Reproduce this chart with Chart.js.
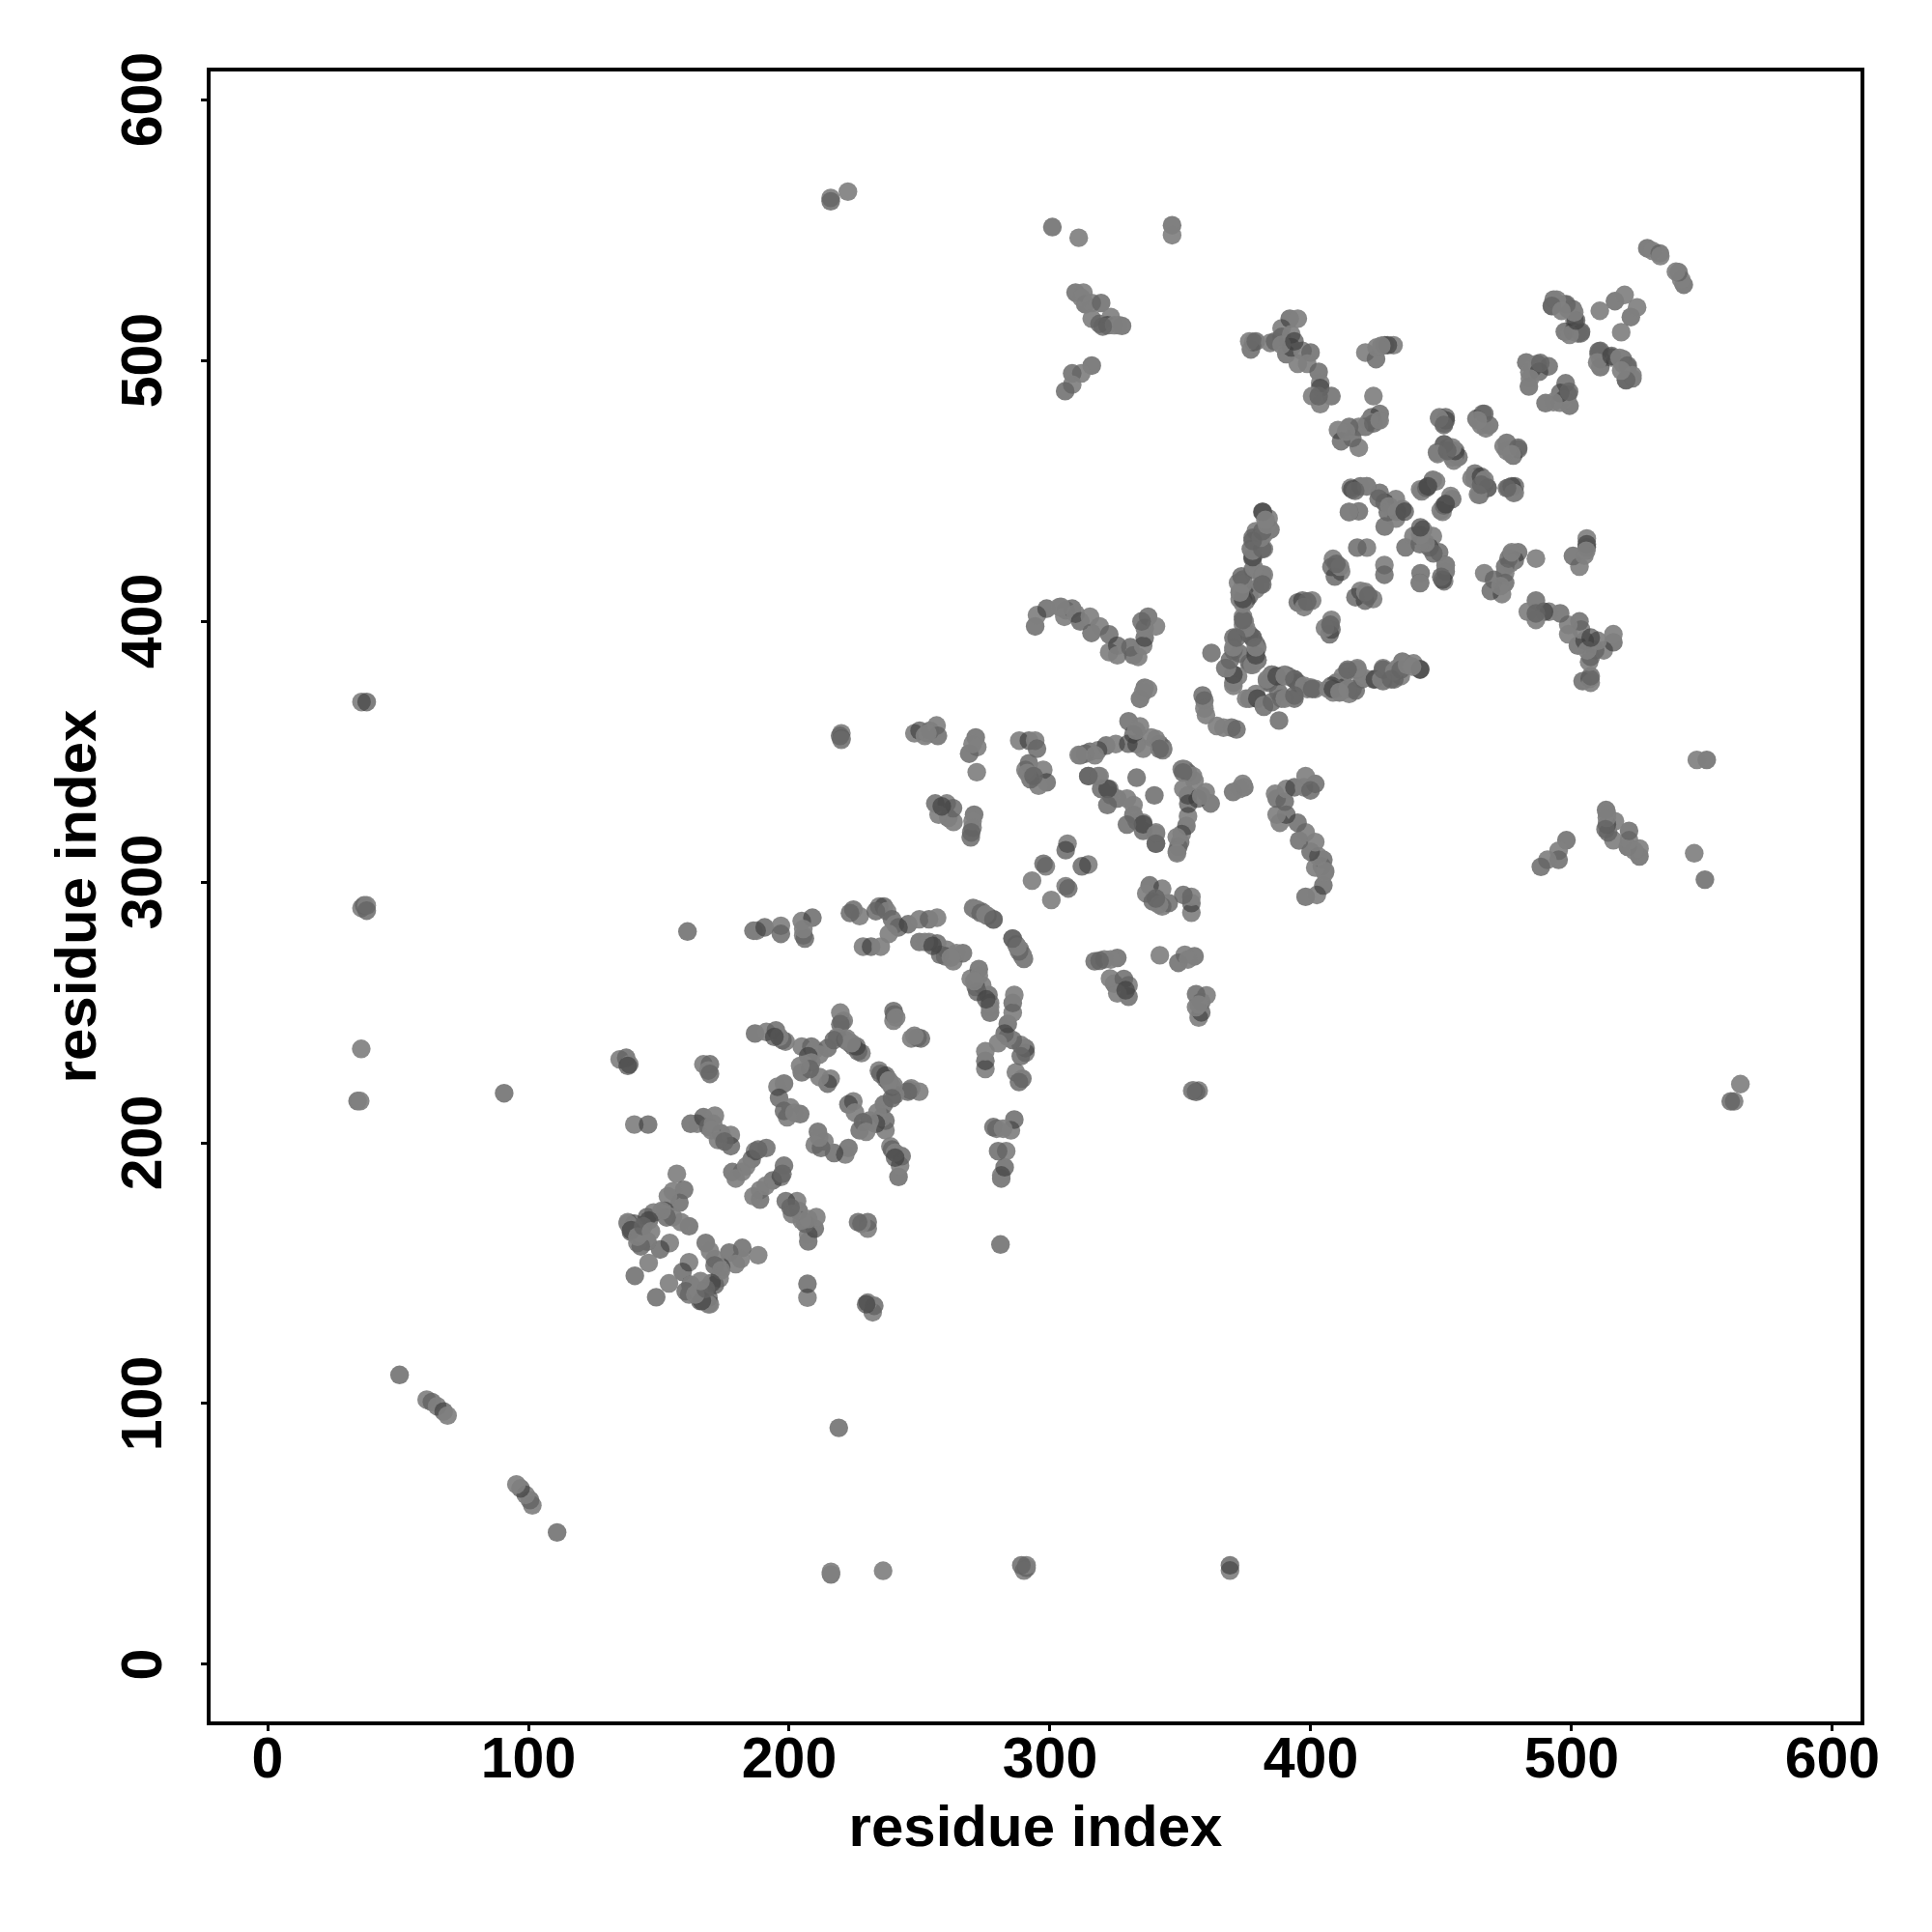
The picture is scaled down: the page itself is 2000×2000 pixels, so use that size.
<!DOCTYPE html>
<html>
<head>
<meta charset="utf-8">
<style>
body { margin: 0; background: #fff; }
</style>
<script src="https://cdn.jsdelivr.net/npm/chart.js@4"></script>
</head>
<body>
<canvas id="myChart" width="2000" height="2000"></canvas>
<script>
// contact map: each pair is [residue i, residue j] with i < j
const axisTicks = [0, 100, 200, 300, 400, 500, 600];
const axisLabel = 'residue index';

const longRange = [[36,369],[38,369],[36,290],[37,291],[38,291],[38,289],[35.9,236],[34.5,216],[35.5,216],[50.6,111],
  [61,101.5],[63,100.6],[65,99],[67.5,97],[69,95.4],[90.7,219],[215.9,562.3],[215.9,561],[222.5,564.7],
  [300.9,551.1],[311,547],[346.8,551.8],[346.8,548],[161,281],[220,357],[220,355],[220,354.5],[219.5,356]];

const cluster140 = [[135,232],[137.5,232.6],[138.7,230.1],[138.1,229.5],[167.1,230.1],[169.6,230.1],[169,227.7],[169.6,226.4],
  [140.6,207],[145.9,207],[156.9,188.1],[159.7,182],[155.4,181.4],[157.9,177],[153.5,179.5],[152.3,173.9],[155.4,171.5],
  [161.6,168],[148,173.3],[145.5,171.5],[138.1,169.6],[140.6,169],[143,167.2],[145.5,162.2],[141.8,161.6],[139.3,165.9],
  [154.2,161.6],[150.5,159.1],[146.1,153.9],[140.8,149],[158.5,169.6],[153,171.4],[151.1,173.9],[146.2,170.2],[145.6,162.2],
  [143.1,160.3],[143.1,165.3],[140.6,167.7],[138.1,169],[139.4,166.5],[141.8,164],[144,168],[147,166]];

const cluster180 = [[162.2,207.3],[164.7,207.3],[167.1,209.8],[171.5,210.4],[169,206.1],[170.2,204.8],[173.9,203.6],[177.6,203],
  [177.6,198.7],[172.7,201.1],[175.2,200.5],[170.8,207.3],[191.2,198],[186.9,196.8],[185.6,193.7],[181.9,188.8],[178.2,188.8],
  [179.5,186.3],[188.1,197.4],[183.5,191],[186.9,241.9],[191.2,242.5],[194.9,243.1],[198.6,238.8],[197.4,239.4],[196.2,240.6],
  [194.3,240.6],[204.8,236.9],[208.5,236.9],[209.8,235.7],[214.7,236.3],[211.6,233.8],[207.3,233.2],[219.6,249.9],[220.2,246.2],
  [220.9,246.8],[219.6,245.5],[218.4,240.6],[221.5,239.4],[223.3,238.1],[224.6,236.9],[227.7,234.4],[226.4,235],[222.1,240],
  [225.8,237],[223.9,238.2],[217.1,239.4],[208.5,230.8],[204.8,227],[215.9,224.6],[214.7,222.7],[211.6,225.2],[207.9,228.3],
  [204.2,229.5],[198,222.7],[195.5,221.5],[196.1,217.2],[200.5,213.5],[204.2,211],[199.2,209.8],[198,212.2],[202,211.5],
  [240,250.5],[240,246.8],[240.3,249.2],[241,248]];

const cluster240 = [[186.3,281.3],[187.5,281.3],[190.6,282.6],[196.8,283.2],[196.8,280.1],[205.4,279.5],[206,278.3],[204.8,285],
  [208.9,286.3],[205.4,282],[224.6,289.4],[227,286.9],[223.3,288.1],[234.5,290.6],[236.3,290.6],[237.5,288.8],[239.4,285.7],
  [240.6,283.8],[241.9,282.6],[238.2,280.1],[245.6,283.8],[249.9,285.7],[253.6,285.7],[256.7,286.3],[233.2,288.8],[228.3,275.2],
  [231.4,275.2],[235.1,275.2],[249.9,277],[253.6,277],[256.7,276.4],[260.4,274],[259.8,271.5],[262.9,269.6],[266.6,272.7],
  [264.1,272.7],[257.9,272.1],[252,277],[255,275.5],[262,271],[270.5,290],[272,289.5],[274,288.5],[276,287],[278.3,285.7],
  [271.5,289.4],[273.4,288.1],[275.2,287.5],[278.3,285.6]];

const cluster300 = [[248,357],[250,358],[252,356],[254,358],[256.5,360],[257,356],[253,357],[261,324.6],[260.4,330.1],[256,330.1],
  [263,323],[262.8,328.3],[257.3,325.8],[258.5,329],[271.9,342.1],[271.5,355.4],[272.1,351.7],[269,349.2],[270.3,352.9],
  [270.9,325.8],[270.3,320.8],[269.6,317.1],[270.3,323.3],[269.8,319],[288.2,354.2],[291.9,354.2],[294.3,354.2],[295,351.1],
  [290.6,343],[291.9,345.5],[297.4,343],[298.7,338.2],[295.6,336.9],[292.5,339.4],[291.3,341.8],[293.7,340.6],[306.7,314.7],
  [306,312.2],[298.4,306],[297.5,307],[293.1,300.5]];

const arm400 = [[294.3,398],[295,402.3],[298.7,404.8],[303.6,405.4],[306.1,404.2],[305.5,401.7],[308.5,404.8],[309.8,402.9],
  [311.6,399.9],[315.3,401.7],[315.9,395.5],[319,398],[322.7,394.9],[322.7,388.1],[325.8,390.6],[325.8,386.9],[332,386.9],
  [333.8,386.3],[330.8,390],[335.7,390.6],[336.3,393.7],[336.3,397.4],[337.6,401.7],[340.6,398],[335.1,399.9],[304.2,405.5]];

const cluster340 = [[336.3,374.5],[337.6,373.9],[334.5,370.2],[335.7,372.7],[330.1,361.6],[334.5,359.7],[333.2,352.9],[338.8,355.4],
  [343.1,351.7],[343.4,351.1],[341.9,352.9],[340.6,354.8],[332,356.6],[343.2,350.5],[342,351],[311.6,348.6],[315.3,349.9],
  [318.4,350.5],[321.5,352.3],[325.2,352.9],[313.5,349.2],[317.2,348.6],[314.7,340.6],[319,340.6],[319.6,335.7],[322.7,335.7],
  [325.8,332],[323.4,333.2],[333.2,340],[332,329.5],[335.7,322.1],[340.6,318.4],[329.5,322],[311,348.7],[314.7,340.6],
  [351.1,335.7],[330,353],[333,358]];

const cluster380 = [[361.9,387.8],[374,401.7],[370.3,393.7],[370.3,388.7],[367.2,382],[370.3,379.5],[370.3,376.4],[372.7,408.5],
  [376.4,409.7],[378.9,412.2],[374.6,412.8],[374,398.6],[377.7,393.7],[379.5,390],[379.5,385],[377,383.2],[359.2,369.6],
  [359.2,366.5],[358.5,371.5],[359.8,364],[381.4,441.9],[383.8,439.4],[384.5,435.1],[378.9,434.5],[377.7,432],[382,433.2],
  [377,427.7],[382,427.7],[377.7,424],[377.7,419.7],[381.4,417.8],[380.8,414.1],[374,416],[372.7,411],[375.2,407.9],
  [372.1,414.7],[374,409.8],[374.6,399.9],[378.9,391.3],[379.5,385.1],[376.4,395],[378.9,388.8],[376.4,383.9],[372.1,378.9],
  [372.7,387.6],[377.7,383.2],[378.9,386.9],[378.9,390],[377.7,393.7],[375.2,397.4],[374,400.5],[370.3,375.2],[370.3,379.5],
  [367.8,382],[369,385.1],[370.3,390],[371.5,393.7],[374,406.7],[374,408.5],[374,414.1],[373.4,417.2],[382,417.8],
  [381.4,414.1],[378.3,420.3],[377.7,424.6],[377.7,427],[381.4,427.7],[380.8,432],[381.4,434.5],[383.2,436.9],[381.6,441.9],
  [382.6,438.8],[377.7,430.8],[372.8,411]];

const cluster410 = [[396.8,407.9],[400.5,407.9],[395,407.2],[397.4,405.4],[398.6,407.5],[408.5,423.9],[407.9,420.8],[411.6,419],
  [409.2,417.1],[411.2,420.9],[409.8,422],[421.5,428.2],[417.8,428.2],[415.3,451.1],[419,451.7],[421.5,451.7],[426.4,449.2],
  [414.7,441.8],[418.4,442.1],[432.6,446.8],[428.3,445.5],[435.1,443],[428.3,436.3],[432.6,439.3],[429.5,441.8],[421.4,451.7],
  [415.9,450.5],[414.6,441.9],[426,447],[430,444],[417,450],[433,442],[436,442]];

const cluster460 = [[442.5,449.8],[446.8,454.2],[441.9,450.5],[444.3,451.1],[448,453.6],[444.9,451.7],[449.3,478.2],[451.7,478.2],
  [451.1,475.8],[448.4,464.7],[452.4,466.5],[453.6,465.3],[455.4,464],[451.1,467.7],[454.2,462.8],[456.6,462.9],[454.8,461.6],
  [455.4,465.3],[454.2,466.6],[451.1,467.8],[448.6,464.1],[452.3,465.3],[465.9,479.5],[463.5,477.6],[465.3,475.1],[468.4,475.1],
  [467.1,473.9],[466.5,479.5],[464,477],[451.7,477],[449.2,477.7],[451,475.2]];

const cluster490 = [[424,486.3],[426.4,479.5],[425.8,477],[423.3,478.2],[422.1,476.4],[420.9,474.5],[418.4,474.5],[414.7,474.5],
  [410.4,473.3],[411.6,469],[418.4,466.5],[415.9,470.2],[413.5,472.7],[424,475.8],[426.4,477],[482.6,499.2],[486.9,498.6],
  [491.2,497.7],[483.8,495.5],[483.6,490],[485,497],[487.5,495.6],[484,493],[488,499],[497.4,521.4],[493.1,523.3],[492.5,520.8],
  [500.5,519.6],[498.7,519.6],[503.6,511],[501.1,515.3],[500.5,511],[502.4,510.3],[497.4,511],[510.8,519],[516.6,522.7],
  [520.3,525.1],[503.5,510.4],[499.2,509.8],[501.7,515.3],[501,518.4],[498,521.5],[494.3,523.3],[492.4,520.9],[496.1,519],
  [529,543],[531,542],[533.8,541],[534,540]];

const cluster510 = [[309.8,526],[312.8,526],[313.5,521.5],[316,522],[319.6,522],[316,516],[319,514],[323.3,516.6],[322,513.5],
  [324.6,513.5],[327.6,513.2],[326.4,513.5],[320.2,513],[312,524],[316,498],[312,495],[308.5,495],[308.5,490.7],[305.8,488.2],
  [377.9,507],[377,504.2],[376.4,507.3],[378.9,507.3],[384.4,506.7],[386.3,507.3],[388.8,512.3],[391.9,516],[395,516],
  [388.8,509],[392.5,510],[390.6,502.4],[395,498.7],[392.5,505],[396.8,503.6],[399.9,503],[398.6,498.7],[403,495.6],
  [403.6,491.3],[403.6,489.4],[400.5,486.3],[407.9,486.3],[403.6,483.2],[403,486.3],[388.8,506],[393.7,507.3],[420.9,503],
  [425,500.5],[425.2,504.9],[428.3,505.8],[431.7,505.8],[429.5,505.8],[427,505.6]];

const contacts = [...longRange, ...cluster140, ...cluster180, ...cluster240, ...cluster300, ...arm400,
  ...cluster340, ...cluster380, ...cluster410, ...cluster460, ...cluster490, ...cluster510];

// the map is symmetric, so every pair shows up on both sides of the diagonal
const points = [];
contacts.forEach(function (c) {
  points.push({ x: c[0], y: c[1] });
  points.push({ x: c[1], y: c[0] });
});

const boxPlugin = {
  id: 'box',
  afterDraw(chart) {
    const a = chart.chartArea;
    const ctx = chart.ctx;
    ctx.save();
    ctx.strokeStyle = '#000';
    ctx.lineWidth = 4;
    ctx.strokeRect(a.left, a.top, a.right - a.left, a.bottom - a.top);
    ctx.restore();
  }
};

function setTicks(scale) {
  scale.ticks = axisTicks.map(function (v) { return { value: v }; });
}

// most discs are mid grey, a few darker ones show through where they pile up
function discColor(ctx) {
  const pair = Math.floor(ctx.dataIndex / 2);
  if (pair % 2 === 0) return 'rgba(128,128,128,0.92)';
  if (pair % 6 === 1) return 'rgba(60,60,60,0.66)';
  return 'rgba(100,100,100,0.82)';
}

const fontFamily = '"Liberation Sans", Arial, sans-serif';

new Chart(document.getElementById('myChart'), {
  type: 'scatter',
  data: {
    datasets: [{
      label: 'contacts',
      data: points,
      backgroundColor: discColor,
      borderWidth: 0,
      pointRadius: 9.7,
      pointHoverRadius: 9.7
    }]
  },
  plugins: [boxPlugin],
  options: {
    responsive: false,
    animation: false,
    devicePixelRatio: 1,
    layout: { padding: { top: 72, right: 72, left: 0, bottom: 0 } },
    plugins: { legend: { display: false }, tooltip: { enabled: false } },
    scales: {
      x: {
        type: 'linear',
        min: -22.6,
        max: 611.5,
        afterBuildTicks: setTicks,
        afterFit: function (s) { s.height = 216; },
        grid: { drawOnChartArea: false, tickLength: 8, tickColor: '#000', tickWidth: 3 },
        border: { display: false },
        ticks: { color: '#000', padding: -4, maxRotation: 0, autoSkip: false, font: { family: fontFamily, size: 59, weight: 'bold' } },
        title: { display: true, text: axisLabel, color: '#000', padding: { top: 0, bottom: 70 }, font: { family: fontFamily, size: 60, weight: 'bold' } }
      },
      y: {
        type: 'linear',
        min: -22.6,
        max: 611.5,
        afterBuildTicks: setTicks,
        afterFit: function (s) { s.width = 216; },
        grid: { drawOnChartArea: false, tickLength: 8, tickColor: '#000', tickWidth: 3 },
        border: { display: false },
        ticks: { color: '#000', padding: 8, minRotation: 90, maxRotation: 90, crossAlign: 'center', autoSkip: false, font: { family: fontFamily, size: 59, weight: 'bold' } },
        title: { display: true, text: axisLabel, color: '#000', padding: { top: 46, bottom: 0 }, font: { family: fontFamily, size: 60, weight: 'bold' } }
      }
    }
  }
});
</script>
</body>
</html>
